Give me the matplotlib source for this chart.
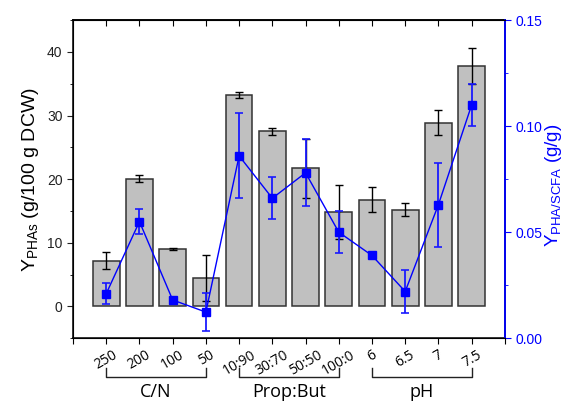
import numpy as np
import matplotlib
matplotlib.use("Agg")
import matplotlib.pyplot as plt
from matplotlib.ticker import MultipleLocator

plt.rcParams['font.family'] = ['Liberation Sans', 'DejaVu Sans']

# conditions tested, grouped by factor
labels = ['250', '200', '100', '50', '10:90', '30:70', '50:50', '100:0',
          '6', '6.5', '7', '7.5']
groups = [('C/N', 1, 4), ('Prop:But', 5, 8), ('pH', 9, 12)]

# PHA content (g/100 g DCW)
y_pha = [7.2, 20.1, 9.0, 4.4, 33.2, 27.5, 21.7, 14.85, 16.8, 15.2, 28.9, 37.8]
y_pha_err = [1.35, 0.6, 0.1, 3.6, 0.5, 0.5, 4.6, 4.2, 2.0, 1.0, 2.0, 2.9]

# PHA yield on substrate (g/g)
y_sub = [0.021, 0.055, 0.018, 0.0123, 0.086, 0.066, 0.078, 0.050,
         0.039, 0.022, 0.063, 0.110]
y_sub_err = [0.005, 0.006, 0.0, 0.009, 0.020, 0.0098, 0.0158, 0.0099,
             0.0, 0.010, 0.0198, 0.010]

x = np.arange(1, len(labels) + 1)

fig = plt.figure(figsize=(5.66, 4.04), dpi=100)
ax = fig.add_axes([0.129, 0.163, 0.763, 0.787])

ax.bar(x, y_pha, width=0.8, color='#c0c0c0', edgecolor='#333333',
       linewidth=1.1, zorder=2)
ax.errorbar(x, y_pha, yerr=y_pha_err, fmt='none', ecolor='black',
            elinewidth=1.0, capsize=3, capthick=1.0, zorder=3)

ax.set_xlim(0, 13)
ax.set_ylim(-5, 45)
ax.yaxis.set_major_locator(MultipleLocator(10))
ax.yaxis.set_minor_locator(MultipleLocator(5))
ax.set_xticks(np.arange(0, 14))
ax.set_xticklabels([''] + labels + [''], rotation=30, ha='center',
                   family=['Open Sans', 'DejaVu Sans'], fontsize=10)
ax.tick_params(axis='x', which='both', direction='out', length=4,
               pad=3, top=False)
ax.tick_params(axis='y', which='major', direction='out', length=4,
               labelsize=10, colors='#222222')
ax.tick_params(axis='y', which='minor', direction='out', length=2.5)
ax.set_ylabel(r'$\mathregular{Y_{PHAs}}$ (g/100 g DCW)', fontsize=14,
              labelpad=4)
for s in ax.spines.values():
    s.set_linewidth(1.1)

# inward ticks along the top edge
secx = ax.secondary_xaxis('top')
secx.set_xticks(x)
secx.tick_params(direction='in', length=4, labeltop=False)
secx.spines['top'].set_linewidth(1.1)

ax2 = ax.twinx()
ax2.errorbar(x, y_sub, yerr=y_sub_err, fmt='s-', color='#0000ff',
             ecolor='#1a1aff', markersize=6, linewidth=1.0,
             elinewidth=1.3, capsize=3, capthick=1.2, zorder=4)
ax2.set_ylim(0, 0.15)
ax2.yaxis.set_major_locator(MultipleLocator(0.05))
ax2.yaxis.set_minor_locator(MultipleLocator(0.025))
ax2.yaxis.set_major_formatter(plt.FormatStrFormatter('%.2f'))
ax2.tick_params(axis='y', which='major', direction='out', length=4,
                labelsize=10, colors='#0000ff')
ax2.tick_params(axis='y', which='minor', direction='out', length=2.5,
                colors='#0000ff')
ax2.spines['right'].set_color('#0000ff')
ax2.spines['right'].set_linewidth(1.3)
ax2.set_ylabel(r'$\mathregular{Y_{PHA/SCFA}}$ (g/g)', fontsize=13.5,
               color='#0000ff')
ax2.yaxis.set_label_coords(1.088, 0.48)

# group brackets under the tick labels
trans = ax.get_xaxis_transform()
for name, a, b in groups:
    ax.plot([a, a, b, b], [-0.095, -0.123, -0.123, -0.095], color='#222222',
            linewidth=1.0, transform=trans, clip_on=False)
    ax.text((a + b) / 2, -0.17, name, transform=trans, ha='center',
            va='center', fontsize=13, family=['Open Sans', 'DejaVu Sans'])

fig.savefig('out.png', dpi=100)
